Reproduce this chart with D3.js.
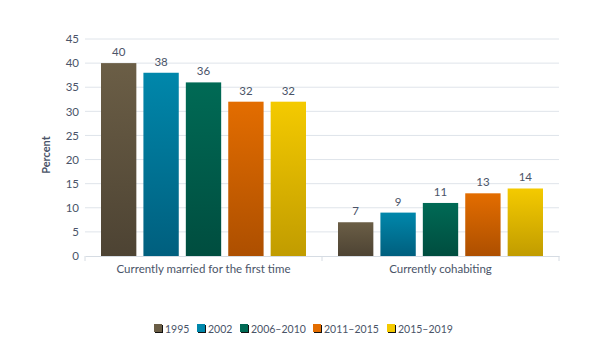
<!DOCTYPE html>
<html lang="en">
<head>
    <meta charset="UTF-8">
    <title>Marital status</title>
    <script src="https://d3js.org/d3.v7.min.js"></script>
    <style>
        body { margin: 0; background: #fff; }
        text { font-family: Lato, "Open Sans", sans-serif; fill: #4a5468; }
    </style>
</head>
<body>
<script>
    // data
    const categories = ["Currently married for the first time", "Currently cohabiting"];
    const years = ["1995", "2002", "2006\u20132010", "2011\u20132015", "2015\u20132019"];
    const married = [40, 38, 36, 32, 32];
    const cohabiting = [7, 9, 11, 13, 14];
    const yTicks = [0, 5, 10, 15, 20, 25, 30, 35, 40, 45];

    // top / bottom colour for each series gradient
    const topColors = ["#6b5e46", "#0087ab", "#006a55", "#e36d00", "#f4ca00"];
    const bottomColors = ["#4d4333", "#005f7e", "#004d3f", "#ad4f00", "#c19c00"];

    const series = [married, cohabiting];

    const width = 605, height = 340;
    const svg = d3.select("body").append("svg")
        .attr("width", width)
        .attr("height", height);

    const defs = svg.append("defs");
    years.forEach(function(y, i) {
        const g = defs.append("linearGradient")
            .attr("id", "grad" + i)
            .attr("x1", 0).attr("y1", 0).attr("x2", 0).attr("y2", 1);
        g.append("stop").attr("offset", "0%").attr("stop-color", topColors[i]);
        g.append("stop").attr("offset", "100%").attr("stop-color", bottomColors[i]);
    });

    const x0 = d3.scaleBand().domain(categories).range([85, 559]);
    const x1 = d3.scaleBand().domain(years).range([16, 221]).paddingInner(1 / 6);
    const y = d3.scaleLinear().domain([0, 45]).range([256, 39]);

    // gridlines
    svg.append("g").selectAll("line")
        .data(yTicks.filter(d => d > 0))
        .enter()
        .append("line")
        .attr("x1", 85).attr("x2", 559)
        .attr("y1", d => y(d)).attr("y2", d => y(d))
        .attr("stroke", "#dfe4ea")
        .attr("stroke-width", 1);

    // y axis labels
    const yAxis = d3.axisLeft(y).tickValues(yTicks).tickSize(0).tickPadding(6);
    svg.append("g")
        .attr("transform", "translate(85,0)")
        .call(yAxis)
        .call(g => g.select(".domain").remove())
        .selectAll("text")
        .style("font-size", "11.5px")
        .attr("fill", "#4a5468");

    // bars
    const groups = svg.append("g").selectAll("g")
        .data(categories)
        .enter()
        .append("g")
        .attr("transform", d => "translate(" + x0(d) + ",0)");

    groups.selectAll("rect")
        .data((d, ci) => series[ci].map((v, i) => ({year: years[i], value: v, i: i})))
        .enter()
        .append("rect")
        .attr("x", d => x1(d.year))
        .attr("y", d => y(d.value))
        .attr("width", x1.bandwidth())
        .attr("height", d => y(0) - y(d.value))
        .attr("fill", d => "url(#grad" + d.i + ")");

    groups.selectAll("text.val")
        .data((d, ci) => series[ci].map((v, i) => ({year: years[i], value: v})))
        .enter()
        .append("text")
        .attr("class", "val")
        .attr("x", d => x1(d.year) + x1.bandwidth() / 2)
        .attr("y", d => y(d.value) - 7)
        .attr("text-anchor", "middle")
        .style("font-size", "11.5px")
        .text(d => d.value);

    // x axis
    const xAxis = d3.axisBottom(x0).tickSize(0).tickPadding(9);
    const xg = svg.append("g")
        .attr("transform", "translate(0," + y(0) + ")")
        .call(xAxis);
    xg.select(".domain").attr("stroke", "#d6dce3");
    xg.selectAll("text").style("font-size", "11.5px").attr("fill", "#4a5468");
    xg.selectAll("line.sep")
        .data([85, 322, 559])
        .enter()
        .append("line")
        .attr("class", "sep")
        .attr("x1", d => d).attr("x2", d => d)
        .attr("y1", 0).attr("y2", 5)
        .attr("stroke", "#d6dce3");

    // y axis title
    svg.append("text")
        .attr("transform", "translate(50,155) rotate(-90)")
        .attr("text-anchor", "middle")
        .style("font-size", "11px")
        .style("font-weight", "bold")
        .text("Percent");

    // legend
    const legendX = [154, 197, 240, 313, 387];
    const legend = svg.append("g").selectAll("g")
        .data(years)
        .enter()
        .append("g")
        .attr("transform", (d, i) => "translate(" + legendX[i] + ",324)");
    legend.append("rect")
        .attr("x", 1).attr("y", 1)
        .attr("width", 8).attr("height", 8)
        .attr("fill", "#111");
    legend.append("rect")
        .attr("width", 8).attr("height", 8)
        .attr("fill", (d, i) => topColors[i]);
    legend.append("text")
        .attr("x", 11)
        .attr("y", 8.5)
        .style("font-size", "10.5px")
        .text(d => d);
</script>
</body>
</html>
